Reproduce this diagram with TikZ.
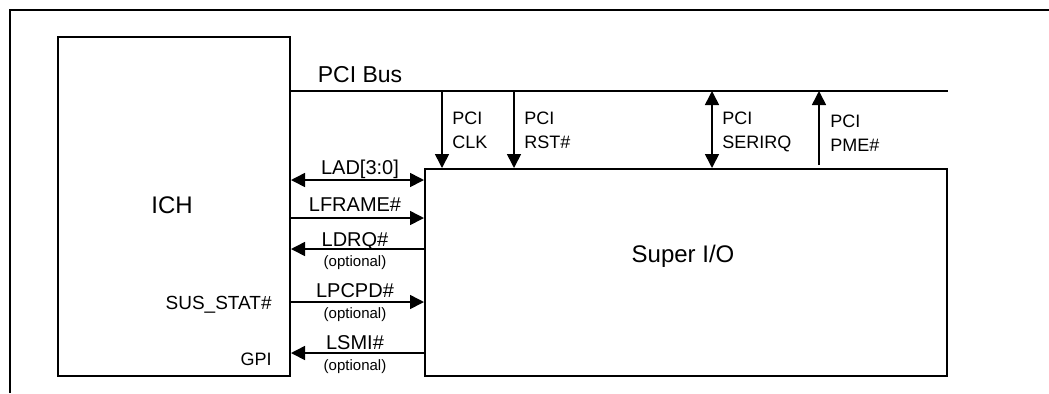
\documentclass[tikz,border=0pt]{standalone}
\usepackage{fontspec}
\setmainfont{Liberation Sans}
\usetikzlibrary{arrows.meta}
\usetikzlibrary{positioning}

\begin{document}
\begin{tikzpicture}[x=0.5pt, y=-0.5pt,
  tip/.style={-{Triangle[length=7pt,width=7pt]}},
  twotip/.style={{Triangle[length=7pt,width=7pt]}-{Triangle[length=7pt,width=7pt]}},
  sig/.style={line width=0.8pt},
  sigtext/.style={inner sep=0pt, anchor=base, font=\fontsize{10}{12}\selectfont},
  opttext/.style={inner sep=0pt, anchor=base, font=\fontsize{7.5}{9}\selectfont},
  pcitext/.style={inner sep=0pt, anchor=north west, align=left, font=\fontsize{9}{12}\selectfont}]
\useasboundingbox (0,0) rectangle (1049,393);
% outer frame (only top and left edge are seen)
\draw [line width=1.3pt] (10,393) -- (10,10) -- (1049,10);

% the two chips
\node [rectangle, draw=black, line width=1pt, minimum width=116pt, minimum height=169.5pt] (ICH) at (174,206.5) {};
\node [rectangle, draw=black, line width=1pt, minimum width=261pt, minimum height=103.5pt] (SIO) at (686,272.5) {};
\node [inner sep=0pt, anchor=base, font=\fontsize{12}{14}\selectfont] (ICHlbl) at (172,213) {ICH};
\node [inner sep=0pt, anchor=base, font=\fontsize{12}{14}\selectfont] (SIOlbl) at (683,262) {Super I/O};

% PCI bus
\coordinate (bus) at (0,91);
\draw [sig] (ICH.east |- bus) -- (SIO.east |- bus);
\node [inner sep=0pt, anchor=base, font=\fontsize{11.5}{14}\selectfont] (buslbl) at (360,82) {PCI Bus};

\coordinate (clk) at (442,91);
\coordinate (rst) at (514,91);
\coordinate (serirq) at (712,91);
\coordinate (pme) at (819,91);
\coordinate (pmefoot) at (819,165);
\draw [sig, tip] (clk) to (clk |- SIO.north);
\draw [sig, tip] (rst) to (rst |- SIO.north);
\draw [sig, twotip] (serirq) to (serirq |- SIO.north);
\draw [sig, tip] (pmefoot) to (pme);
\node [pcitext] (clklbl) at (452,112) {PCI\\CLK};
\node [pcitext] (rstlbl) at (524,112) {PCI\\RST\#};
\node [pcitext] (serirqlbl) at (722,112) {PCI\\SERIRQ};
\node [pcitext] (pmelbl) at (830,115) {PCI\\PME\#};

% LPC signals
\coordinate (lad) at (0,180);
\coordinate (lframe) at (0,218);
\coordinate (ldrq) at (0,249);
\coordinate (lpcpd) at (0,302);
\coordinate (lsmi) at (0,353);
\draw [sig, twotip] (ICH.east |- lad) to (SIO.west |- lad);
\draw [sig, tip] (ICH.east |- lframe) to (SIO.west |- lframe);
\draw [sig, tip] (SIO.west |- ldrq) to (ICH.east |- ldrq);
\draw [sig, tip] (ICH.east |- lpcpd) to (SIO.west |- lpcpd);
\draw [sig, tip] (SIO.west |- lsmi) to (ICH.east |- lsmi);
\node [sigtext] (ladlbl) at (360,174) {LAD[3:0]};
\node [sigtext] (lframelbl) at (355,211) {LFRAME\#};
\node [sigtext] (ldrqlbl) at (355,246) {LDRQ\#};
\node [opttext] (ldrqopt) at (355,266) {(optional)};
\node [sigtext] (lpcpdlbl) at (355,297.5) {LPCPD\#};
\node [opttext] (lpcpdopt) at (355,318) {(optional)};
\node [sigtext] (lsmilbl) at (355,349) {LSMI\#};
\node [opttext] (lsmiopt) at (355,370) {(optional)};

% pins on the ICH side
\node [inner sep=0pt, anchor=base east, font=\fontsize{9.5}{12}\selectfont] (susstat) at (272,309) {SUS\_STAT\#};
\node [inner sep=0pt, anchor=base east, font=\fontsize{9}{12}\selectfont] (gpi) at (272,365.5) {GPI};
\end{tikzpicture}
\end{document}
